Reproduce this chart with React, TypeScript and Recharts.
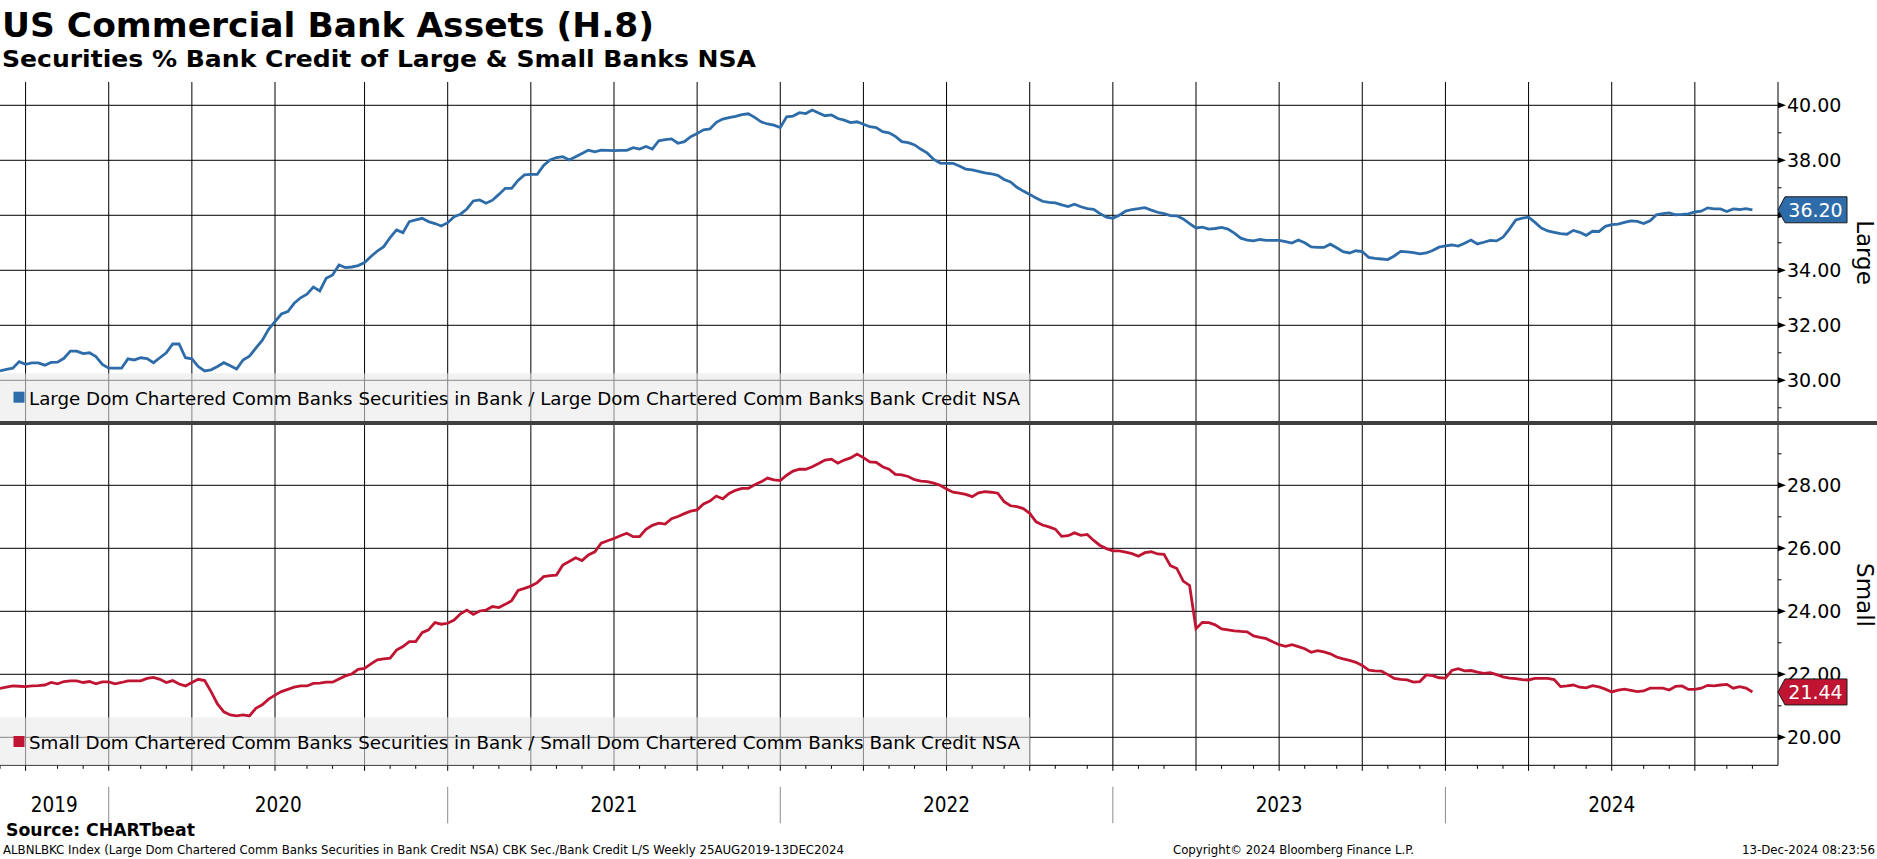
import React from 'react';
import { LineChart, Line, XAxis, YAxis, CartesianGrid, ReferenceDot } from 'recharts';

// ---------- DATA ----------
// Weekly observations (Wednesdays), first = 04 Sep 2019, last = 04 Dec 2024
const largeValues: number[] = [
  30.34, 30.40, 30.44, 30.68, 30.58, 30.63, 30.63, 30.55, 30.65, 30.66,
  30.80, 31.06, 31.06, 30.97, 31.00, 30.86, 30.58, 30.44, 30.44, 30.44,
  30.78, 30.74, 30.82, 30.79, 30.64, 30.82, 31.00, 31.32, 31.32, 30.82,
  30.78, 30.50, 30.34, 30.38, 30.50, 30.64, 30.53, 30.41, 30.74, 30.88,
  31.17, 31.45, 31.85, 32.13, 32.41, 32.50, 32.80, 33.00, 33.13, 33.39,
  33.25, 33.71, 33.83, 34.19, 34.10, 34.12, 34.17, 34.28, 34.50, 34.70,
  34.86, 35.19, 35.47, 35.37, 35.77, 35.83, 35.89, 35.77, 35.70, 35.61,
  35.73, 35.95, 36.04, 36.23, 36.52, 36.56, 36.44, 36.55, 36.76, 36.98,
  36.98, 37.27, 37.47, 37.49, 37.49, 37.81, 38.01, 38.10, 38.13, 38.01,
  38.13, 38.25, 38.37, 38.31, 38.37, 38.36, 38.35, 38.36, 38.36, 38.46,
  38.41, 38.50, 38.41, 38.71, 38.75, 38.78, 38.62, 38.68, 38.86, 38.97,
  39.11, 39.14, 39.38, 39.50, 39.55, 39.60, 39.66, 39.69, 39.56, 39.40,
  39.32, 39.28, 39.19, 39.58, 39.61, 39.73, 39.70, 39.83, 39.72, 39.62,
  39.65, 39.52, 39.46, 39.37, 39.40, 39.31, 39.22, 39.19, 39.04, 39.00,
  38.87, 38.68, 38.64, 38.56, 38.40, 38.26, 38.03, 37.90, 37.89, 37.89,
  37.79, 37.68, 37.65, 37.60, 37.54, 37.51, 37.45, 37.30, 37.21, 37.02,
  36.88, 36.76, 36.63, 36.51, 36.47, 36.45, 36.38, 36.32, 36.40, 36.31,
  36.24, 36.22, 36.06, 35.93, 35.89, 36.00, 36.15, 36.21, 36.24, 36.28,
  36.19, 36.11, 36.06, 35.99, 35.98, 35.87, 35.70, 35.54, 35.57, 35.50,
  35.52, 35.56, 35.50, 35.35, 35.17, 35.10, 35.07, 35.12, 35.09, 35.09,
  35.09, 35.04, 34.99, 35.10, 35.00, 34.85, 34.83, 34.83, 34.95, 34.82,
  34.68, 34.63, 34.71, 34.68, 34.47, 34.43, 34.41, 34.39, 34.52, 34.69,
  34.67, 34.64, 34.60, 34.63, 34.72, 34.84, 34.89, 34.92, 34.88, 34.98,
  35.10, 34.96, 35.02, 35.09, 35.07, 35.20, 35.50, 35.83, 35.90, 35.93,
  35.74, 35.54, 35.43, 35.38, 35.33, 35.31, 35.45, 35.38, 35.27, 35.42,
  35.41, 35.60, 35.66, 35.68, 35.74, 35.80, 35.78, 35.70, 35.80, 36.02,
  36.06, 36.09, 36.02, 36.03, 36.05, 36.12, 36.15, 36.27, 36.23, 36.23,
  36.14, 36.23, 36.21, 36.24, 36.20,
];

const smallValues: number[] = [
  21.55, 21.59, 21.63, 21.62, 21.61, 21.63, 21.64, 21.66, 21.74, 21.70,
  21.77, 21.79, 21.79, 21.74, 21.77, 21.70, 21.76, 21.76, 21.70, 21.74,
  21.79, 21.79, 21.79, 21.87, 21.90, 21.84, 21.74, 21.80, 21.69, 21.63,
  21.74, 21.84, 21.80, 21.45, 21.06, 20.81, 20.71, 20.68, 20.71, 20.68,
  20.92, 21.03, 21.21, 21.34, 21.45, 21.52, 21.59, 21.63, 21.63, 21.71,
  21.72, 21.75, 21.75, 21.85, 21.95, 22.01, 22.16, 22.19, 22.33, 22.46,
  22.49, 22.51, 22.77, 22.88, 23.04, 23.04, 23.32, 23.41, 23.64, 23.59,
  23.62, 23.72, 23.92, 24.04, 23.90, 24.01, 24.04, 24.15, 24.12, 24.22,
  24.34, 24.66, 24.73, 24.80, 24.91, 25.10, 25.13, 25.15, 25.47, 25.58,
  25.70, 25.61, 25.79, 25.89, 26.16, 26.24, 26.31, 26.40, 26.48, 26.37,
  26.37, 26.60, 26.73, 26.80, 26.77, 26.94, 27.01, 27.10, 27.18, 27.22,
  27.41, 27.50, 27.66, 27.57, 27.74, 27.84, 27.90, 27.90, 28.02, 28.11,
  28.23, 28.17, 28.15, 28.32, 28.45, 28.51, 28.51, 28.59, 28.69, 28.80,
  28.83, 28.70, 28.80, 28.87, 28.99, 28.88, 28.74, 28.73, 28.59, 28.51,
  28.35, 28.33, 28.28, 28.18, 28.13, 28.12, 28.07, 28.00, 27.88, 27.78,
  27.75, 27.71, 27.64, 27.76, 27.80, 27.78, 27.75, 27.48, 27.35, 27.32,
  27.26, 27.11, 26.84, 26.74, 26.68, 26.61, 26.38, 26.40, 26.49, 26.41,
  26.44, 26.25, 26.09, 25.99, 25.92, 25.92, 25.88, 25.83, 25.75, 25.86,
  25.89, 25.82, 25.81, 25.45, 25.36, 24.96, 24.82, 23.45, 23.65, 23.64,
  23.57, 23.44, 23.41, 23.38, 23.36, 23.35, 23.22, 23.17, 23.13, 23.03,
  22.94, 22.89, 22.94, 22.88, 22.81, 22.70, 22.75, 22.71, 22.65, 22.55,
  22.49, 22.44, 22.38, 22.28, 22.13, 22.11, 22.10, 21.99, 21.87, 21.84,
  21.82, 21.75, 21.77, 21.98, 21.96, 21.89, 21.88, 22.12, 22.18, 22.11,
  22.12, 22.07, 22.03, 22.05, 21.99, 21.92, 21.88, 21.86, 21.83, 21.82,
  21.87, 21.87, 21.87, 21.83, 21.61, 21.63, 21.66, 21.59, 21.57, 21.64,
  21.60, 21.53, 21.44, 21.50, 21.53, 21.49, 21.45, 21.47, 21.56, 21.56,
  21.56, 21.50, 21.62, 21.63, 21.52, 21.52, 21.56, 21.65, 21.63, 21.66,
  21.68, 21.56, 21.61, 21.56, 21.44,
];

const FIRST_WEEK_UTC = Date.UTC(2019, 8, 4);
const weekDates: Date[] = largeValues.map((_, i) => new Date(FIRST_WEEK_UTC + i * 7 * 86400000));
const X_MAX = 278; // axis runs 4 weeks past the last observation

const largeTicks = [29, 30, 31, 32, 33, 34, 35, 36, 37, 38, 39, 40];
const largeGrid = [30, 32, 34, 36, 38, 40];
const smallTicks = [20, 21, 22, 23, 24, 25, 26, 27, 28, 29];
const smallGrid = [20, 22, 24, 26, 28];
const yearLabels = ['2019', '2020', '2021', '2022', '2023', '2024'];

const largeLegend = 'Large Dom Chartered Comm Banks Securities in Bank / Large Dom Chartered Comm Banks Bank Credit NSA';
const smallLegend = 'Small Dom Chartered Comm Banks Securities in Bank / Small Dom Chartered Comm Banks Bank Credit NSA';

// ---------- DERIVED ----------
const rows = weekDates.map((d, i) => ({ i, large: largeValues[i], small: smallValues[i] }));
const monthStarts = weekDates
  .map((d, i) => (i === 0 || d.getUTCMonth() !== weekDates[i - 1].getUTCMonth() ? i : -1))
  .filter((i) => i >= 0);
const quarterStarts = monthStarts.filter((i) => i > 0 && weekDates[i].getUTCMonth() % 3 === 0);
const yearStarts = monthStarts.filter((i) => i > 0 && weekDates[i].getUTCMonth() === 0);
const yearBounds = [0, ...yearStarts, X_MAX];
const yearLabelPos = yearLabels.map((_, k) => (yearBounds[k] + yearBounds[k + 1]) / 2);
const xTicks = Array.from(new Set([...monthStarts, ...yearLabelPos])).sort((a, b) => a - b);

const BLUE = '#2d6ca9';
const RED = '#c01532';
const FONT = "'DejaVu Sans', Verdana, sans-serif";
const FONT_C = "'DejaVu Sans Condensed', 'DejaVu Sans', sans-serif";

const TOP_DOMAIN: [number, number] = [28.447, 40.847];
const BOT_DOMAIN: [number, number] = [19.111, 29.978];

// ---------- TICKS ----------
const YTick = (props: any) => {
  const { x, y, payload } = props;
  const v = payload.value as number;
  if (v % 2 !== 0) {
    return <line x1={x} x2={x + 3.5} y1={y} y2={y} stroke="#000" strokeWidth={1} />;
  }
  return (
    <g>
      <path d={`M${x},${y - 3} L${x + 8},${y} L${x},${y + 3} Z`} fill="#000" />
      <text x={x + 9} y={y} dy="0.36em" fontFamily={FONT} fontSize={19} fill="#000">
        {v.toFixed(2)}
      </text>
    </g>
  );
};

const XTick = (props: any) => {
  const { x, y, payload } = props;
  const v = payload.value as number;
  const parts: React.ReactNode[] = [];
  if (monthStarts.includes(v)) {
    const isQ = quarterStarts.includes(v);
    parts.push(<line key="t" x1={x} x2={x} y1={y} y2={y + (isQ ? 5.5 : 3.5)} stroke="#000" strokeWidth={1} />);
  }
  if (yearStarts.includes(v)) {
    parts.push(<line key="s" x1={x} x2={x} y1={y + 21.5} y2={y + 58} stroke="#8c8c8c" strokeWidth={1} />);
  }
  const li = yearLabelPos.indexOf(v);
  if (li >= 0) {
    parts.push(
      <text key="l" x={x} y={y + 46.4} textAnchor="middle" fontFamily={FONT_C} fontSize={21}
        textLength={47} lengthAdjust="spacingAndGlyphs" fill="#000">
        {yearLabels[li]}
      </text>
    );
  }
  return <g>{parts}</g>;
};

const Flag = ({ cx, cy, fill, label }: { cx: number; cy: number; fill: string; label: string }) => (
  <g>
    <path
      d={`M${cx},${cy} L${cx + 7},${cy - 13} L${cx + 69},${cy - 13} L${cx + 69},${cy + 13} L${cx + 7},${cy + 13} Z`}
      fill={fill} stroke="#1a1a1a" strokeWidth={1}
    />
    <text x={cx + 37.5} y={cy} dy="0.36em" textAnchor="middle" fontFamily={FONT} fontSize={19} fill="#fff">
      {label}
    </text>
  </g>
);

// Transparent layer drawn above a panel, sharing its scales, holding the last-value flag
const FlagLayer = ({ height, top, domain, value, fill }: { height: number; top: number; domain: [number, number]; value: number; fill: string }) => (
  <LineChart width={1877} height={height} data={rows} margin={{ top, right: 99, bottom: height - top - (domain === TOP_DOMAIN ? 341 : 342.3), left: 0 }}>
    <XAxis dataKey="i" type="number" domain={[0, X_MAX]} hide allowDataOverflow height={0} />
    <YAxis type="number" domain={domain} hide allowDataOverflow width={0} />
    <ReferenceDot x={X_MAX} y={value} r={0} ifOverflow="visible"
      shape={(p: any) => <Flag cx={p.cx} cy={p.cy} fill={fill} label={value.toFixed(2)} />} />
  </LineChart>
);

// ---------- APP ----------
export default function App() {
  const lastLarge = largeValues[largeValues.length - 1];
  const lastSmall = smallValues[smallValues.length - 1];
  return (
    <div style={{ position: 'absolute', left: 0, top: 0, width: 1877, height: 859, background: '#fff', overflow: 'hidden' }}>
      {/* Top panel: Large banks */}
      <div style={{ position: 'absolute', left: 0, top: 0 }}>
        <LineChart width={1877} height={423} data={rows} margin={{ top: 82, right: 0, bottom: 0, left: 0 }}>
          <XAxis xAxisId="x" dataKey="i" type="number" domain={[0, X_MAX]} ticks={quarterStarts} hide height={0} allowDataOverflow />
          <YAxis
            yAxisId="v" orientation="right" type="number" width={99} domain={TOP_DOMAIN} ticks={largeTicks}
            interval={0} allowDataOverflow tickLine={false} tickSize={0} tickMargin={0}
            axisLine={{ stroke: '#000', strokeWidth: 1 }} tick={(p: any) => <YTick {...p} />}
          />
          <YAxis yAxisId="g" type="number" domain={TOP_DOMAIN} ticks={largeGrid} hide width={0} allowDataOverflow />
          <CartesianGrid xAxisId="x" yAxisId="g" stroke="#000" strokeWidth={1} syncWithTicks />
          <Line xAxisId="x" yAxisId="v" type="linear" dataKey="large" stroke={BLUE} strokeWidth={2.8}
            dot={false} isAnimationActive={false} />
        </LineChart>
      </div>
      <div style={{ position: 'absolute', left: 0, top: 0 }}>
        <FlagLayer height={423} top={82} domain={TOP_DOMAIN} value={lastLarge} fill={BLUE} />
      </div>

      {/* Bottom panel: Small banks */}
      <div style={{ position: 'absolute', left: 0, top: 423 }}>
        <LineChart width={1877} height={436} data={rows} margin={{ top: 0, right: 0, bottom: 0, left: 0 }}>
          <XAxis
            xAxisId="x" dataKey="i" type="number" domain={[0, X_MAX]} ticks={xTicks} interval={0} height={93.7}
            allowDataOverflow tickLine={false} tickSize={0} tickMargin={0}
            axisLine={{ stroke: '#000', strokeWidth: 1 }} tick={(p: any) => <XTick {...p} />}
          />
          <XAxis xAxisId="gx" dataKey="i" type="number" domain={[0, X_MAX]} ticks={quarterStarts} hide height={0} allowDataOverflow />
          <YAxis
            yAxisId="v" orientation="right" type="number" width={99} domain={BOT_DOMAIN} ticks={smallTicks}
            interval={0} allowDataOverflow tickLine={false} tickSize={0} tickMargin={0}
            axisLine={{ stroke: '#000', strokeWidth: 1 }} tick={(p: any) => <YTick {...p} />}
          />
          <YAxis yAxisId="g" type="number" domain={BOT_DOMAIN} ticks={smallGrid} hide width={0} allowDataOverflow />
          <CartesianGrid xAxisId="gx" yAxisId="g" stroke="#000" strokeWidth={1} syncWithTicks />
          <Line xAxisId="x" yAxisId="v" type="linear" dataKey="small" stroke={RED} strokeWidth={2.8}
            dot={false} isAnimationActive={false} />
        </LineChart>
      </div>
      <div style={{ position: 'absolute', left: 0, top: 423 }}>
        <FlagLayer height={436} top={0} domain={BOT_DOMAIN} value={lastSmall} fill={RED} />
      </div>

      {/* Overlay: titles, legends, separator, axis titles, footer */}
      <svg width={1877} height={859} style={{ position: 'absolute', left: 0, top: 0, pointerEvents: 'none' }}>
        <text x={2} y={37} fontFamily={FONT} fontWeight="bold" fontSize={34} textLength={652}
          lengthAdjust="spacingAndGlyphs" fill="#000">US Commercial Bank Assets (H.8)</text>
        <text x={2} y={67} fontFamily={FONT} fontWeight="bold" fontSize={22.5} textLength={754}
          lengthAdjust="spacingAndGlyphs" fill="#000">Securities % Bank Credit of Large &amp; Small Banks NSA</text>

        {/* legends */}
        <rect x={0} y={373.3} width={1030} height={47.7} fill="#e9e9e9" fillOpacity={0.58} />
        <rect x={13.5} y={391.7} width={11} height={11} fill={BLUE} />
        <text x={29} y={405} fontFamily={FONT_C} fontSize={18} textLength={991} lengthAdjust="spacingAndGlyphs"
          fill="#000">{largeLegend}</text>

        <rect x={0} y={717.3} width={1030} height={48} fill="#e9e9e9" fillOpacity={0.58} />
        <rect x={13.5} y={736} width={11} height={11} fill={RED} />
        <text x={29} y={749.4} fontFamily={FONT_C} fontSize={18} textLength={991} lengthAdjust="spacingAndGlyphs"
          fill="#000">{smallLegend}</text>

        {/* panel separator */}
        <rect x={0} y={421} width={1877} height={4} fill="#3f3f3f" />

        {/* axis titles */}
        <text transform="translate(1856.5,252.5) rotate(90)" textAnchor="middle" fontFamily={FONT} fontSize={23}
          fill="#000">Large</text>
        <text transform="translate(1856.5,595) rotate(90)" textAnchor="middle" fontFamily={FONT} fontSize={23}
          fill="#000">Small</text>

        {/* footer */}
        <text x={6} y={836} fontFamily={FONT} fontWeight="bold" fontSize={17} textLength={189}
          lengthAdjust="spacingAndGlyphs" fill="#000">Source: CHARTbeat</text>
        <text x={3} y={854} fontFamily={FONT_C} fontSize={12} textLength={841} lengthAdjust="spacingAndGlyphs"
          fill="#000">ALBNLBKC Index (Large Dom Chartered Comm Banks Securities in Bank Credit NSA) CBK Sec./Bank Credit L/S  Weekly 25AUG2019-13DEC2024</text>
        <text x={1173} y={854} fontFamily={FONT_C} fontSize={12} textLength={241} lengthAdjust="spacingAndGlyphs"
          fill="#000">Copyright© 2024 Bloomberg Finance L.P.</text>
        <text x={1742} y={854} fontFamily={FONT_C} fontSize={12} textLength={133} lengthAdjust="spacingAndGlyphs"
          fill="#000">13-Dec-2024 08:23:56</text>
      </svg>
    </div>
  );
}
